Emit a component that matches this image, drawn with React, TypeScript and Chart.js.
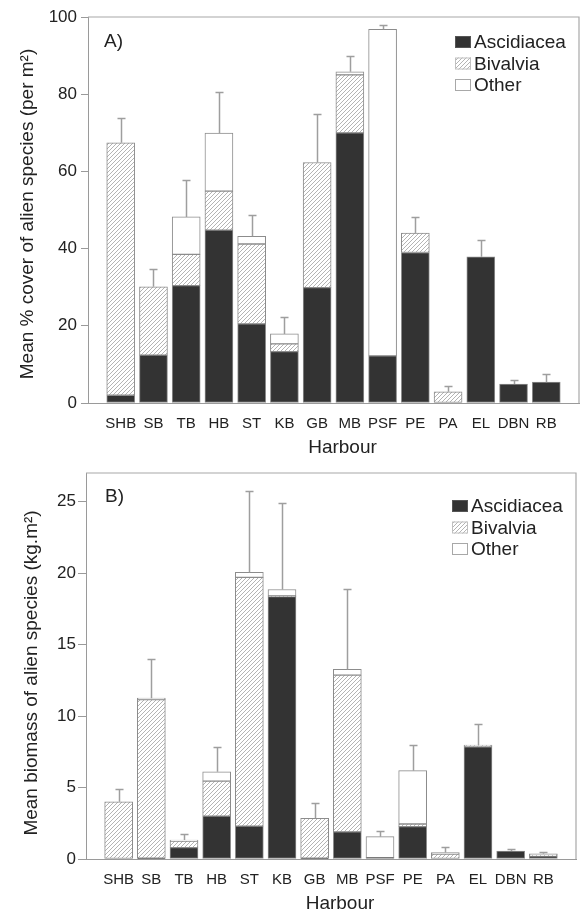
import React, { useEffect, useRef } from 'react';
import { Chart, registerables } from 'chart.js';

Chart.register(...registerables);

const FONT = '"Liberation Sans", Arial, Helvetica, sans-serif';
const TEXT = '#222222';
const AXIS = '#9a9a9a';

const harbours = ['SHB', 'SB', 'TB', 'HB', 'ST', 'KB', 'GB', 'MB', 'PSF', 'PE', 'PA', 'EL', 'DBN', 'RB'];
const seriesNames = ['Ascidiacea', 'Bivalvia', 'Other'];

// Panel A: mean % cover (per m2)
const coverAscidiacea = [2, 12.4, 30.4, 44.8, 20.5, 13.3, 29.9, 70, 12.2, 39, 0, 37.9, 4.9, 5.4];
const coverBivalvia = [65.4, 17.7, 8.1, 10.1, 20.7, 2.0, 32.4, 15, 0, 5, 2.9, 0, 0, 0];
const coverOther = [0, 0, 9.7, 15, 2.0, 2.6, 0, 0.8, 84.6, 0, 0, 0, 0, 0];
const coverError = [6.5, 4.7, 9.7, 10.6, 5.5, 4.5, 12.6, 4.2, 1.2, 4.1, 1.6, 4.2, 1.0, 2.2];
const coverTicks = [0, 20, 40, 60, 80, 100];

// Panel B: mean biomass (kg.m2)
const biomassAscidiacea = [0, 0.05, 0.8, 3.0, 2.3, 18.35, 0.05, 1.9, 0.1, 2.26, 0, 7.85, 0.56, 0.2];
const biomassBivalvia = [4.0, 11.1, 0.45, 2.45, 17.4, 0.05, 2.8, 10.96, 0, 0.19, 0.35, 0.12, 0, 0.1];
const biomassOther = [0, 0.1, 0.08, 0.65, 0.35, 0.45, 0, 0.4, 1.46, 3.73, 0.1, 0, 0, 0.07];
const biomassError = [0.9, 2.75, 0.45, 1.75, 5.7, 6.05, 1.1, 5.6, 0.42, 1.8, 0.4, 1.45, 0.12, 0.14];
const biomassTicks = [0, 5, 10, 15, 20, 25];

type Panel = {
  asc: number[];
  biv: number[];
  oth: number[];
  err: number[];
  ticks: number[];
  yMax: number;
  yTitle: string;
  label: string;
  plotLeft: number;
  padRight: number;
  xAxisHeight: number;
  tickLength: number;
  tickPadding: number;
  yTitleX: number;
  yTitleDy: number;
  labelDx: number;
  labelDy: number;
  legendDy: number;
};

const panelA: Panel = {
  asc: coverAscidiacea,
  biv: coverBivalvia,
  oth: coverOther,
  err: coverError,
  ticks: coverTicks,
  yMax: 100,
  yTitle: 'Mean % cover of alien species (per m\u00B2)',
  label: 'A)',
  plotLeft: 88,
  padRight: 5,
  xAxisHeight: 53,
  tickLength: 7,
  tickPadding: 4,
  yTitleX: -55,
  yTitleDy: 4,
  labelDx: 16,
  labelDy: 30,
  legendDy: 31,
};

const panelB: Panel = {
  asc: biomassAscidiacea,
  biv: biomassBivalvia,
  oth: biomassOther,
  err: biomassError,
  ticks: biomassTicks,
  yMax: 27,
  yTitle: 'Mean biomass of alien species (kg.m\u00B2)',
  label: 'B)',
  plotLeft: 86,
  padRight: 8,
  xAxisHeight: 52,
  tickLength: 8,
  tickPadding: 2,
  yTitleX: -49,
  yTitleDy: 7,
  labelDx: 19,
  labelDy: 29,
  legendDy: 39,
};

function makeHatch(): CanvasPattern | string {
  const s = 4;
  const c = document.createElement('canvas');
  c.width = s;
  c.height = s;
  const g = c.getContext('2d');
  if (!g) return '#ddd';
  g.fillStyle = '#ffffff';
  g.fillRect(0, 0, s, s);
  g.strokeStyle = '#b4b4b4';
  g.lineWidth = 1;
  g.beginPath();
  g.moveTo(0, s);
  g.lineTo(s, 0);
  g.moveTo(-1, 1);
  g.lineTo(1, -1);
  g.moveTo(s - 1, s + 1);
  g.lineTo(s + 1, s - 1);
  g.stroke();
  return g.createPattern(c, 'repeat') || '#ddd';
}

function decor(p: Panel, hatch: CanvasPattern | string) {
  return {
    id: 'decor' + p.label,
    afterDatasetsDraw(chart: any) {
      const { ctx, chartArea: a, scales } = chart;
      const x = scales.x;
      const y = scales.y;
      ctx.save();
      // error bars
      ctx.strokeStyle = '#9e9e9e';
      ctx.lineWidth = 1.5;
      for (let i = 0; i < harbours.length; i++) {
        const total = p.asc[i] + p.biv[i] + p.oth[i];
        const px = Math.round(x.getPixelForValue(i)) + 0.5;
        const y0 = y.getPixelForValue(total);
        const y1 = Math.round(y.getPixelForValue(total + p.err[i])) + 0.5;
        ctx.beginPath();
        ctx.moveTo(px, y0);
        ctx.lineTo(px, y1);
        ctx.moveTo(px - 4, y1);
        ctx.lineTo(px + 4, y1);
        ctx.stroke();
      }
      // frame (top + right)
      ctx.strokeStyle = '#a8a8a8';
      ctx.lineWidth = 1.2;
      ctx.beginPath();
      ctx.moveTo(a.left, a.top);
      ctx.lineTo(a.right, a.top);
      ctx.lineTo(a.right, a.bottom);
      ctx.stroke();
      // panel label
      ctx.fillStyle = TEXT;
      ctx.font = '19px ' + FONT;
      ctx.textAlign = 'left';
      ctx.textBaseline = 'alphabetic';
      ctx.fillText(p.label, a.left + p.labelDx, a.top + p.labelDy);
      // legend
      const fills: (CanvasPattern | string)[] = ['#333333', hatch, '#ffffff'];
      const borders = ['#555555', '#c0c0c0', '#a8a8a8'];
      for (let k = 0; k < seriesNames.length; k++) {
        const base = a.top + p.legendDy + k * 21.5;
        const bx = a.right - 124;
        ctx.fillStyle = fills[k] as any;
        ctx.fillRect(bx, base - 12, 16, 12);
        ctx.strokeStyle = borders[k];
        ctx.lineWidth = 1;
        ctx.strokeRect(bx + 0.5, base - 11.5, 15, 11);
        ctx.fillStyle = TEXT;
        ctx.fillText(seriesNames[k], a.right - 105, base);
      }
      // x title
      ctx.textAlign = 'center';
      ctx.fillText('Harbour', (a.left + a.right) / 2 + 9, a.bottom + 50);
      // y title
      ctx.save();
      ctx.translate(a.left + p.yTitleX, (a.top + a.bottom) / 2 + p.yTitleDy);
      ctx.rotate(-Math.PI / 2);
      ctx.textAlign = 'center';
      ctx.fillText(p.yTitle, 0, 0);
      ctx.restore();
      ctx.restore();
    },
  };
}

function makeChart(canvas: HTMLCanvasElement, p: Panel) {
  const hatch = makeHatch();
  const pts = (arr: number[]) => arr.map((v, i) => ({ x: i, y: v === 0 ? null : v }));
  const common = {
    borderColor: '#8c8c8c',
    borderWidth: 1,
    borderSkipped: false,
    barThickness: 28,
  };
  return new Chart(canvas, {
    type: 'bar',
    data: {
      datasets: [
        { label: seriesNames[0], data: pts(p.asc), backgroundColor: '#333333', ...common },
        { label: seriesNames[1], data: pts(p.biv), backgroundColor: hatch, ...common },
        { label: seriesNames[2], data: pts(p.oth), backgroundColor: '#ffffff', ...common },
      ] as any,
    },
    options: {
      responsive: false,
      animation: false,
      devicePixelRatio: 1,
      layout: { padding: { left: 0, top: 17, right: p.padRight, bottom: 0 } },
      plugins: { legend: { display: false }, tooltip: { enabled: false } },
      scales: {
        x: {
          type: 'linear',
          min: -1,
          max: 14,
          stacked: true,
          offset: false,
          grid: { display: false },
          border: { display: true, color: AXIS, width: 1 },
          ticks: {
            stepSize: 1,
            autoSkip: false,
            maxRotation: 0,
            padding: 4,
            color: TEXT,
            font: { family: FONT, size: 15 },
            callback: (v: any) => harbours[v as number] ?? '',
          },
          afterFit: (s: any) => {
            s.height = p.xAxisHeight;
          },
        },
        y: {
          type: 'linear',
          min: 0,
          max: p.yMax,
          stacked: true,
          grid: { drawOnChartArea: false, drawTicks: true, tickLength: p.tickLength, color: AXIS },
          border: { display: true, color: AXIS, width: 1 },
          ticks: {
            padding: p.tickPadding,
            color: TEXT,
            font: { family: FONT, size: 17 },
          },
          afterBuildTicks: (s: any) => {
            s.ticks = p.ticks.map((v) => ({ value: v }));
          },
          afterFit: (s: any) => {
            s.width = p.plotLeft;
          },
        },
      },
    } as any,
    plugins: [decor(p, hatch)],
  });
}

export default function App() {
  const refA = useRef<HTMLCanvasElement>(null);
  const refB = useRef<HTMLCanvasElement>(null);
  useEffect(() => {
    const a = makeChart(refA.current as HTMLCanvasElement, panelA);
    const b = makeChart(refB.current as HTMLCanvasElement, panelB);
    return () => {
      a.destroy();
      b.destroy();
    };
  }, []);
  return (
    <div style={{ position: 'absolute', left: 0, top: 0, width: 584, height: 911, background: '#ffffff' }}>
      <canvas ref={refA} width={584} height={456} style={{ display: 'block', width: 584, height: 456 }} />
      <canvas ref={refB} width={584} height={455} style={{ display: 'block', width: 584, height: 455 }} />
    </div>
  );
}
